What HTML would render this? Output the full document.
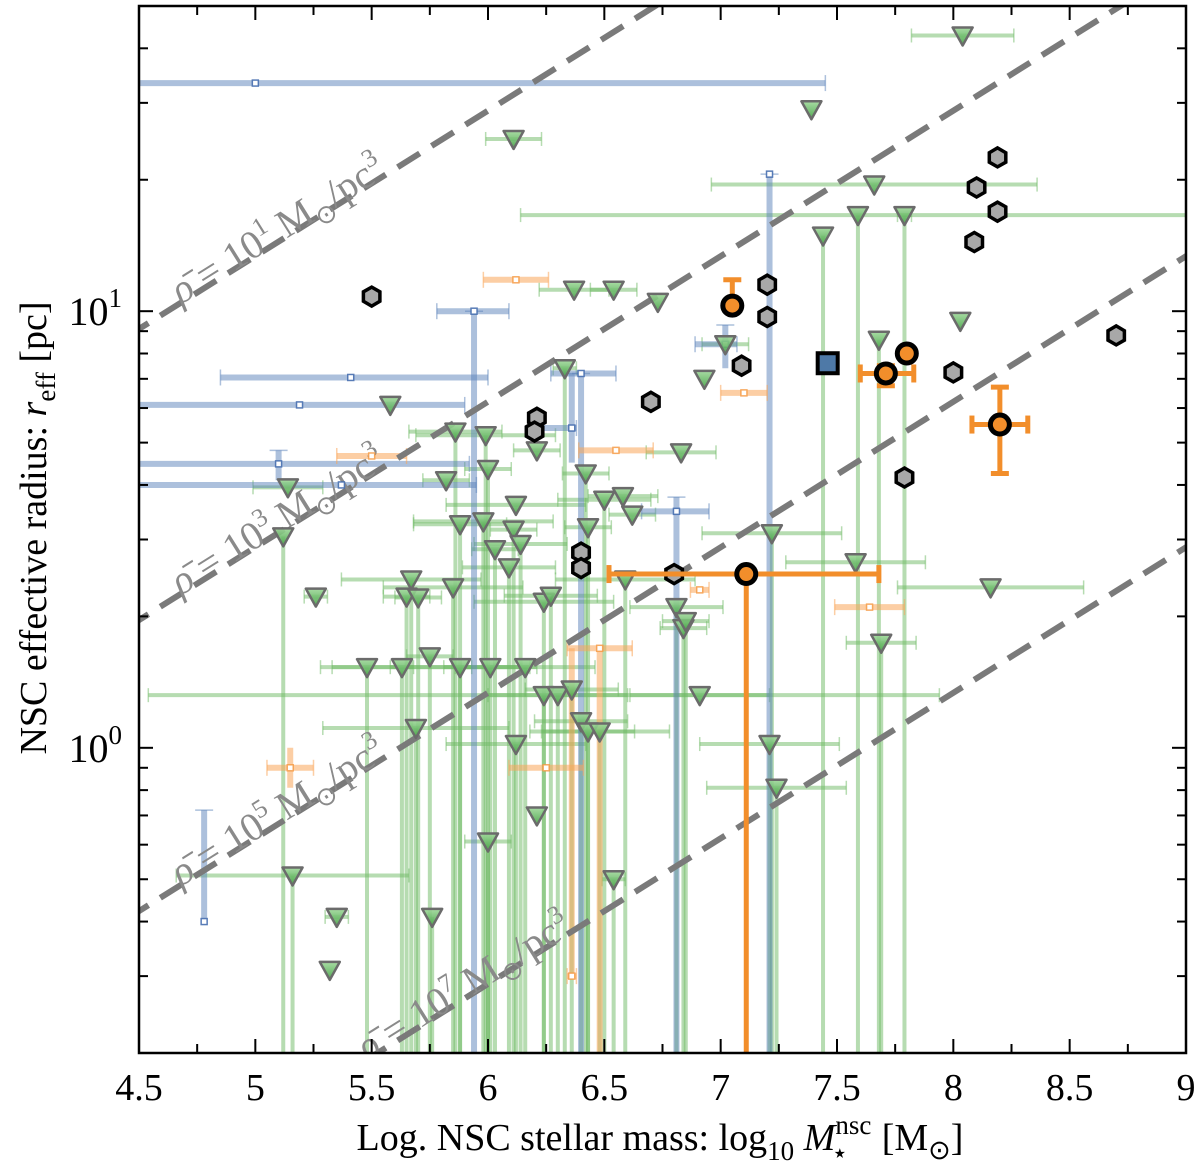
<!DOCTYPE html>
<html><head><meta charset="utf-8"><style>
html,body{margin:0;padding:0;background:#fff;overflow:hidden;width:1200px;height:1172px;}
svg{display:block;font-family:"Liberation Serif",serif;}
</style></head><body>
<svg id="chart" width="1200" height="1172" viewBox="0 0 1200 1172" xmlns="http://www.w3.org/2000/svg">
<defs>
<linearGradient id="tg" x1="0" y1="0" x2="0" y2="1"><stop offset="0" stop-color="#9fd89a"/><stop offset="1" stop-color="#3f9f3f"/></linearGradient>
<clipPath id="pc"><rect x="139" y="6" width="1047" height="1047"/></clipPath>
</defs>
<g id="plot" clip-path="url(#pc)"></g>
<g id="axes"></g>
</svg>
<script>
// ---- data ----
const densities=[1,3,5,7];
const xTicks=[4.5,5,5.5,6,6.5,7,7.5,8,8.5,9];
const xTickLabels=["4.5","5","5.5","6","6.5","7","7.5","8","8.5","9"];
// green triangles
const gX=[8.04,7.39,6.11,7.66,7.59,7.79,7.44,6.37,6.54,6.73,7.02,6.93,7.68,8.03,6.33,5.58,5.86,5.99,6.21,6.0,5.82,6.83,6.42,6.58,6.62,6.50,6.12,5.88,5.98,6.11,6.14,6.03,6.09,5.12,5.14,5.26,5.67,5.65,5.70,5.85,6.24,6.27,6.59,6.81,6.84,6.85,5.48,5.63,5.75,5.88,6.01,6.16,6.24,6.30,6.36,6.40,6.43,6.48,6.91,5.69,6.12,6.21,6.0,6.54,5.16,5.35,5.76,5.32,7.21,7.24,7.22,7.58,7.69,8.16,6.43];
const gR=[42.8,29.0,24.8,19.5,16.6,16.6,14.9,11.2,11.2,10.5,8.4,7.0,8.6,9.5,7.4,6.1,5.3,5.2,4.8,4.35,4.1,4.75,4.25,3.77,3.42,3.7,3.6,3.25,3.30,3.16,2.93,2.85,2.59,3.05,3.95,2.22,2.43,2.22,2.21,2.33,2.16,2.23,2.43,2.10,1.88,1.95,1.53,1.53,1.62,1.53,1.53,1.53,1.32,1.32,1.36,1.15,1.09,1.09,1.32,1.11,1.02,0.70,0.61,0.50,0.51,0.41,0.41,0.31,1.02,0.81,3.1,2.66,1.74,2.33,3.2];
const gXe=[0.22,0,0.12,0.7,1.45,0.03,0,0.15,0.1,0,0.1,0,0,0,0.05,0,0.2,0.3,0.1,0.1,0.1,0.15,0.1,0.15,0.1,0.2,0.3,0.2,0.3,0.1,0.2,0.1,0.2,0,0.15,0.05,0.3,0.1,0.1,0.3,0.3,0.2,0.3,0.2,0.1,0.1,0.2,0.3,0.1,0.3,0.2,0.3,1.7,0.3,0.2,0.2,0.2,0.3,0.3,0.4,0.3,0,0.1,0.05,0.5,0.05,0,0,0.3,0.3,0.3,0.3,0.15,0.4,0.1];
const gYlo=[0,0,0,0,0.2,0.2,0.2,0,0,0,0,0,0.2,0,0.2,0,0.2,0.2,0,0.2,0,0,0.2,0,0,0.2,0,0.2,0.2,0.2,0.2,0.2,0.2,0.2,0,0,0.2,0.2,0.2,0.2,0.2,0.2,0.2,0.2,0.2,0.2,0.2,0.2,0.2,0.2,0.2,0.2,0.2,0.2,0.2,0.2,0.2,0.2,0,0.2,0.2,0,0.2,0.2,0.2,0,0.2,0,0.2,0.2,0.2,0,0.2,0,0.2];
// blue small squares
const bX=[5.0,5.94,5.41,5.19,5.10,5.37,6.36,6.40,7.21,7.02,6.81,4.78];
const bR=[33.3,10.0,7.05,6.1,4.47,4.0,5.4,7.2,20.6,8.4,3.48,0.4];
const bXlo=[4.3,5.78,4.85,4.3,4.3,4.3,6.23,6.27,7.21,6.89,6.66,4.78];
const bXhi=[7.45,6.09,6.0,5.9,5.92,5.95,6.38,6.55,7.21,7.07,6.95,4.78];
const bYlo=[33.3,0.2,7.05,6.1,4.1,4.0,4.5,0.2,0.2,7.4,0.2,0.4];
const bYhi=[33.3,10.0,7.05,6.1,4.8,4.0,7.2,7.2,20.6,9.3,3.75,0.72];
// faded orange squares
const oX=[6.12,7.1,5.5,6.55,6.91,6.48,6.25,5.15,7.64,6.36];
const oR=[11.8,6.5,4.66,4.8,2.3,1.69,0.9,0.9,2.1,0.3];
const oXe=[0.14,0.1,0.15,0.16,0.04,0.14,0.16,0.1,0.15,0.02];
const oYlo=[11.8,6.5,4.66,4.8,2.3,0.2,0.9,0.81,2.1,0.3];
const oYhi=[11.8,6.5,4.66,4.8,2.3,1.69,0.9,1.0,2.1,1.69];
// bold orange circles
const cX=[7.05,7.11,7.71,7.80,8.20];
const cR=[10.3,2.5,7.2,8.0,5.5];
const cXlo=[7.05,6.52,7.6,7.80,8.08];
const cXhi=[7.05,7.68,7.83,7.80,8.32];
const cYlo=[10.3,0.2,6.75,8.0,4.25];
const cYhi=[11.8,2.5,7.5,8.0,6.7];
// grey hexagons
const hX=[5.5,6.21,6.2,6.70,6.40,6.40,6.80,7.09,7.2,7.2,8.0,7.79,8.19,8.10,8.19,8.09,8.70];
const hR=[10.8,5.7,5.3,6.2,2.8,2.58,2.5,7.5,11.5,9.7,7.24,4.16,22.5,19.2,16.9,14.4,8.8];
// blue big square
const sqX=[7.46];
const sqR=[7.6];

// ---- axes functions ----
const X0=139,X1=1186,Y0=6,Y1=1053,XMIN=4.5,XMAX=9,LMIN=Math.log10(0.2),LMAX=Math.log10(50);
const sx=v=>X0+(v-XMIN)/(XMAX-XMIN)*(X1-X0);
const sy=r=>Y1-(Math.log10(r)-LMIN)/(LMAX-LMIN)*(Y1-Y0);
const NS="http://www.w3.org/2000/svg";
const plot=document.getElementById('plot'),axes=document.getElementById('axes');
function mk(tag,attrs,parent){const e=document.createElementNS(NS,tag);for(const k in attrs)e.setAttribute(k,attrs[k]);parent.appendChild(e);return e;}
function err(x1,y1,x2,y2,col,w,name){const l=mk('line',{x1:x1,y1:y1,x2:x2,y2:y2,stroke:col,'stroke-width':w},plot);

return l;}

const GC='rgba(110,185,100,0.5)';
for(let i=0;i<gX.length;i++){const x=sx(gX[i]),y=sy(gR[i]);
 if(gXe[i]>0){err(sx(gX[i]-gXe[i]),y,sx(gX[i]+gXe[i]),y,GC,4,'green-xerr');
  err(sx(gX[i]-gXe[i]),y-7,sx(gX[i]-gXe[i]),y+7,GC,1.5,'green-xcap');err(sx(gX[i]+gXe[i]),y-7,sx(gX[i]+gXe[i]),y+7,GC,1.5,'green-xcap');}
 if(gYlo[i]>0){err(x,y,x,sy(gYlo[i]),GC,4,'green-yerr');}
}
const BC='rgba(90,130,185,0.5)';
for(let i=0;i<bX.length;i++){const x=sx(bX[i]),y=sy(bR[i]);
 if(bXhi[i]>bXlo[i]){err(sx(bXlo[i]),y,sx(bXhi[i]),y,BC,6,'blue-xerr');err(sx(bXlo[i]),y-8,sx(bXlo[i]),y+8,BC,1.5,'blue-xcap');err(sx(bXhi[i]),y-8,sx(bXhi[i]),y+8,BC,1.5,'blue-xcap');}
 if(bYhi[i]>bYlo[i]){err(x,sy(bYlo[i]),x,sy(bYhi[i]),BC,6,'blue-yerr');err(x-9,sy(bYhi[i]),x+9,sy(bYhi[i]),BC,1.5,'blue-ycap');}
}
const OC='rgba(250,165,90,0.55)';
for(let i=0;i<oX.length;i++){const x=sx(oX[i]),y=sy(oR[i]);
 err(sx(oX[i]-oXe[i]),y,sx(oX[i]+oXe[i]),y,OC,6,'orange-xerr');
 err(sx(oX[i]-oXe[i]),y-8,sx(oX[i]-oXe[i]),y+8,OC,1.5,'orange-xcap');err(sx(oX[i]+oXe[i]),y-8,sx(oX[i]+oXe[i]),y+8,OC,1.5,'orange-xcap');
 if(oYhi[i]>oYlo[i])err(x,sy(oYlo[i]),x,sy(oYhi[i]),OC,6,'orange-yerr');
}
// dashed density lines: rho = 3M/(4 pi r^3)
const K=Math.log10(4*Math.PI/3);
const lineR=(m,d)=>Math.pow(10,(m-d-K)/3);
const labelStart=[4.68,4.68,4.68,5.48];
for(let j=0;j<densities.length;j++){const d=densities[j];
 const l=mk('line',{x1:sx(4.3),y1:sy(lineR(4.3,d)),x2:sx(9.2),y2:sy(lineR(9.2,d)),stroke:'#7a7a7a','stroke-width':6,'stroke-dasharray':'26 14'},plot);
 
 
 const m0=labelStart[j],px=sx(m0),py=sy(lineR(m0,d))+2;
 const ang=Math.atan2(sy(lineR(m0+1,d))-sy(lineR(m0,d)),sx(m0+1)-sx(m0))*180/Math.PI;
 const t=mk('text',{x:0,y:0,transform:'translate('+px+','+py+') rotate('+ang+')','font-size':40,fill:'#8a8a8a'},plot);
 
 
 t.innerHTML='<tspan font-style="italic">ρ̄</tspan> = 10<tspan dy="-16" font-size="26">'+d+'</tspan><tspan dy="16"> M</tspan><tspan dy="9" font-size="26">⊙</tspan><tspan dy="-9">/pc</tspan><tspan dy="-16" font-size="26">3</tspan>';
}
for(let i=0;i<oX.length;i++){const r=mk('rect',{x:sx(oX[i])-3,y:sy(oR[i])-3,width:6,height:6,fill:'#fff',stroke:'rgba(245,150,60,0.8)','stroke-width':1.5},plot);
 
 }
for(let i=0;i<bX.length;i++){const r=mk('rect',{x:sx(bX[i])-3,y:sy(bR[i])-3,width:6,height:6,fill:'#fff',stroke:'rgba(70,110,175,0.9)','stroke-width':1.5},plot);
 
 }
for(let i=0;i<gX.length;i++){const x=sx(gX[i]),y=sy(gR[i]);
 const p=mk('polygon',{points:(x-10)+','+(y-8)+' '+(x+10)+','+(y-8)+' '+x+','+(y+10),fill:'url(#tg)',stroke:'#6b6b6b','stroke-width':2.5,'stroke-linejoin':'round','fill-opacity':0.9},plot);
 
 }
for(let i=0;i<hX.length;i++){const x=sx(hX[i]),y=sy(hR[i]);let pts=[];
 for(let k=0;k<6;k++){const a=Math.PI/2+k*Math.PI/3;pts.push((x+9.5*Math.cos(a)).toFixed(1)+','+(y+9.5*Math.sin(a)).toFixed(1));}
 const p=mk('polygon',{points:pts.join(' '),fill:'#a8a8a8',stroke:'#000','stroke-width':3.5},plot);
 
 }
const OB='#f28e2b';
for(let i=0;i<cX.length;i++){const x=sx(cX[i]),y=sy(cR[i]);
 if(cXhi[i]>cXlo[i]){err(sx(cXlo[i]),y,sx(cXhi[i]),y,OB,5,'orange-bold-xerr');err(sx(cXlo[i]),y-9,sx(cXlo[i]),y+9,OB,5,'orange-bold-xcap');err(sx(cXhi[i]),y-9,sx(cXhi[i]),y+9,OB,5,'orange-bold-xcap');}
 if(cYhi[i]>cYlo[i]){err(x,sy(cYlo[i]),x,sy(cYhi[i]),OB,5,'orange-bold-yerr');err(x-9,sy(cYhi[i]),x+9,sy(cYhi[i]),OB,5,'orange-bold-ycap');if(cYlo[i]>0.21)err(x-9,sy(cYlo[i]),x+9,sy(cYlo[i]),OB,5,'orange-bold-ycap');}
 const c=mk('circle',{cx:x,cy:y,r:9.5,fill:OB,stroke:'#000','stroke-width':5},plot);
 
 }
for(let i=0;i<sqX.length;i++){const r=mk('rect',{x:sx(sqX[i])-10,y:sy(sqR[i])-10,width:20,height:20,fill:'#4e79a7',stroke:'#000','stroke-width':4},plot);
 
 }

// ---- axes ----
const fr=mk('rect',{x:X0,y:Y0,width:X1-X0,height:Y1-Y0,fill:'none',stroke:'#000','stroke-width':2.5},axes);


for(let v=4.5;v<=9.001;v+=0.25){const x=sx(v),maj=Math.abs(v*2-Math.round(v*2))<1e-6,L=maj?14:9;
 mk('line',{x1:x,y1:Y1,x2:x,y2:Y1-L,stroke:'#000','stroke-width':2},axes);mk('line',{x1:x,y1:Y0,x2:x,y2:Y0+L,stroke:'#000','stroke-width':2},axes);}
for(let i=0;i<xTicks.length;i++){const t=mk('text',{x:sx(xTicks[i]),y:1100,'font-size':38,'text-anchor':'middle'},axes);t.textContent=xTickLabels[i];
 
 }
const decs=[0.1,1,10];
for(const d of decs){for(let k=1;k<10;k++){const r=d*k;if(r<0.2||r>50)continue;const y=sy(r),L=k==1?14:9;
 mk('line',{x1:X0,y1:y,x2:X0+L,y2:y,stroke:'#000','stroke-width':2},axes);mk('line',{x1:X1,y1:y,x2:X1-L,y2:y,stroke:'#000','stroke-width':2},axes);}}
const yLabs=[[1,'0'],[10,'1']];
for(const yl of yLabs){const t=mk('text',{x:122,y:sy(yl[0])+14,'font-size':40,'text-anchor':'end'},axes);t.innerHTML='10<tspan dy="-18" font-size="27">'+yl[1]+'</tspan>';
 
 }
const xt=mk('text',{x:660,y:1150,'font-size':38,'text-anchor':'middle'},axes);


xt.innerHTML='Log. NSC stellar mass: log<tspan dy="10" font-size="27">10</tspan><tspan dy="-10"> </tspan><tspan font-style="italic">M</tspan><tspan dy="-16" font-size="27">nsc</tspan><tspan dx="-40" dy="28" font-size="27">⋆</tspan><tspan dx="24" dy="-12"> [M</tspan><tspan dy="9" font-size="27">⊙</tspan><tspan dy="-9">]</tspan>';
const yt=mk('text',{x:0,y:0,transform:'translate(46,528) rotate(-90)','font-size':38,'text-anchor':'middle'},axes);


yt.innerHTML='NSC effective radius: <tspan font-style="italic">r</tspan><tspan dy="9" font-size="27">eff</tspan><tspan dy="-9"> [pc]</tspan>';
</script>
</body></html>
